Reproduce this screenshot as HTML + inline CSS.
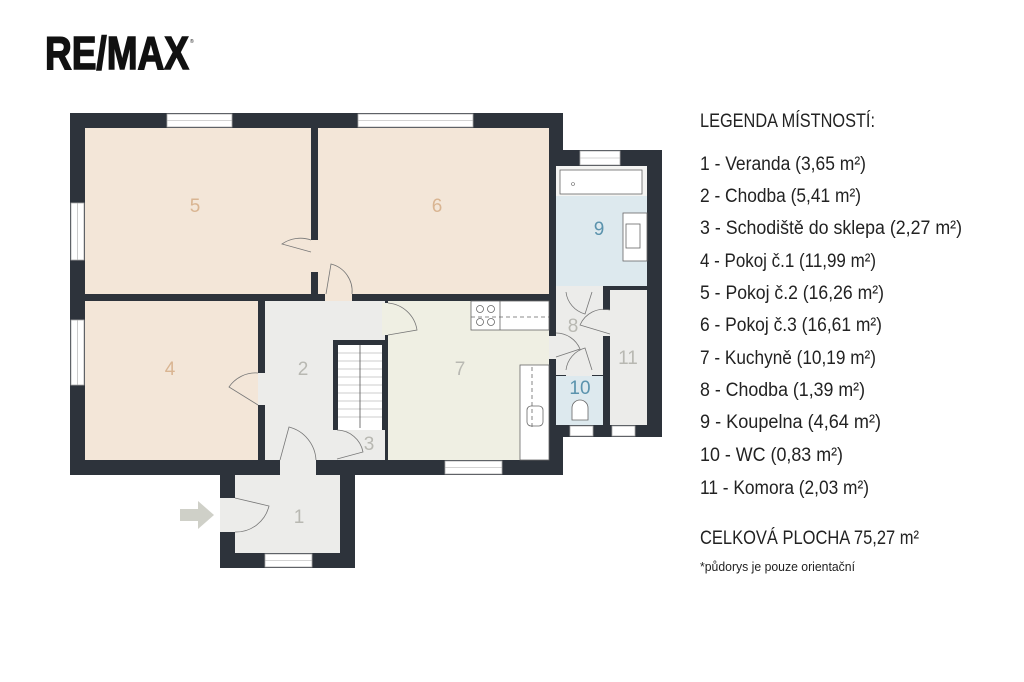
<!DOCTYPE html>
<html><head><meta charset="utf-8"><style>html,body{margin:0;padding:0;background:#fff}svg{display:block}</style></head><body>
<svg width="1024" height="682" viewBox="0 0 1024 682" xmlns="http://www.w3.org/2000/svg" font-family="Liberation Sans, sans-serif">
<rect width="1024" height="682" fill="#fff"/>
<text x="45" y="69" font-size="46" font-weight="bold" fill="#111" stroke="#111" stroke-width="1.5" textLength="144" lengthAdjust="spacingAndGlyphs">RE/MAX</text>
<text x="190" y="43" font-size="5" fill="#111">®</text>
<!-- walls -->
<g fill="#2d333b">
<rect x="70" y="113" width="493" height="362"/>
<rect x="549" y="150" width="113" height="287"/>
<rect x="220" y="460" width="135" height="108"/>
</g>
<!-- rooms -->
<rect x="85" y="128" width="226" height="166" fill="#f3e6d8"/>
<rect x="318" y="128" width="231" height="166" fill="#f3e6d8"/>
<rect x="85" y="301" width="173" height="159" fill="#f3e6d8"/>
<rect x="265" y="301" width="120" height="159" fill="#ececea"/>
<rect x="388" y="301" width="161" height="159" fill="#efefe3"/>
<rect x="556" y="166" width="91" height="120" fill="#dde9ee"/>
<rect x="556" y="166" width="91" height="30" fill="#f4f4f2"/>
<rect x="556" y="286" width="47" height="89" fill="#ececea"/>
<rect x="610" y="290" width="37" height="135" fill="#ececea"/>
<rect x="556" y="376" width="47" height="49" fill="#dde9ee"/>
<rect x="235" y="475" width="105" height="78" fill="#ececea"/>
<!-- door openings -->
<rect x="311" y="240" width="7" height="32" fill="#f3e6d8"/>
<rect x="325" y="294" width="27" height="7" fill="#f3e6d8"/>
<rect x="258" y="373" width="7" height="32" fill="#ececea"/>
<rect x="280" y="460" width="36" height="15" fill="#ececea"/>
<rect x="220" y="498" width="15" height="34" fill="#ececea"/>
<rect x="382" y="303" width="6" height="32" fill="#efefe3"/>
<rect x="549" y="333" width="7" height="26" fill="#ececea"/>
<rect x="566" y="286" width="26" height="6" fill="#ececea"/>
<rect x="603" y="310" width="7" height="26" fill="#ececea"/>
<rect x="566" y="370" width="26" height="6" fill="#ececea"/>
<rect x="549" y="286" width="7" height="50" fill="#2d333b"/>
<!-- stairs -->
<rect x="333" y="340" width="52" height="90" fill="#2d333b"/>
<rect x="338" y="345" width="44" height="85" fill="#fff"/>
<g stroke="#bbb" stroke-width="0.8">
<line x1="338" y1="353" x2="382" y2="353"/><line x1="338" y1="361" x2="382" y2="361"/><line x1="338" y1="369" x2="382" y2="369"/><line x1="338" y1="377" x2="382" y2="377"/><line x1="338" y1="385" x2="382" y2="385"/><line x1="338" y1="393" x2="382" y2="393"/><line x1="338" y1="401" x2="382" y2="401"/><line x1="338" y1="409" x2="382" y2="409"/><line x1="338" y1="417" x2="382" y2="417"/>
</g>
<line x1="360" y1="345" x2="360" y2="428" stroke="#555" stroke-width="0.8"/>
<rect x="338" y="430" width="47" height="30" fill="#ececea"/>
<!-- windows -->
<g fill="#fff" stroke="#aaa" stroke-width="0.8">
<rect x="167" y="114" width="65" height="13"/>
<rect x="358" y="114" width="115" height="13"/>
<rect x="71" y="203" width="13" height="57"/>
<rect x="71" y="320" width="13" height="65"/>
<rect x="580" y="151" width="40" height="14"/>
<rect x="445" y="461" width="57" height="13"/>
<rect x="265" y="554" width="47" height="13"/>
<rect x="570" y="426" width="23" height="10"/>
<rect x="612" y="426" width="23" height="10"/>
</g>
<g stroke="#aaa" stroke-width="0.6">
<line x1="167" y1="120.5" x2="232" y2="120.5"/><line x1="358" y1="120.5" x2="473" y2="120.5"/><line x1="77.5" y1="203" x2="77.5" y2="260"/><line x1="77.5" y1="320" x2="77.5" y2="385"/><line x1="580" y1="158" x2="620" y2="158"/><line x1="445" y1="467.5" x2="502" y2="467.5"/><line x1="265" y1="560.5" x2="312" y2="560.5"/>
</g>
<!-- fixtures -->
<rect x="560" y="170" width="82" height="24" fill="#fff" stroke="#666" stroke-width="0.8"/>
<circle cx="573" cy="184" r="1.5" fill="none" stroke="#666" stroke-width="0.6"/>
<rect x="623" y="213" width="24" height="48" fill="#fff" stroke="#666" stroke-width="0.8"/>
<rect x="626" y="224" width="14" height="24" fill="none" stroke="#666" stroke-width="0.8"/>
<rect x="471" y="301" width="78" height="29" fill="#fff" stroke="#666" stroke-width="0.8"/>
<line x1="500" y1="301" x2="500" y2="330" stroke="#666" stroke-width="0.8"/>
<line x1="471" y1="317" x2="549" y2="317" stroke="#666" stroke-width="0.8" stroke-dasharray="4 3"/>
<g fill="none" stroke="#666" stroke-width="0.8"><circle cx="480" cy="309" r="3.5"/><circle cx="491" cy="309" r="3.5"/><circle cx="480" cy="322" r="3.5"/><circle cx="491" cy="322" r="3.5"/></g>
<rect x="520" y="365" width="29" height="95" fill="#fff" stroke="#666" stroke-width="0.8"/>
<line x1="532" y1="367" x2="532" y2="430" stroke="#666" stroke-width="0.8" stroke-dasharray="4 3"/>
<rect x="527" y="406" width="16" height="20" rx="4" fill="none" stroke="#666" stroke-width="0.8"/>
<path d="M572 420 v-12 a8 8 0 0 1 16 0 v12 z" fill="#fff" stroke="#666" stroke-width="0.8"/>
<!-- door arcs -->
<g fill="none" stroke="#777" stroke-width="0.8">
<path d="M311 240 A32 32 0 0 0 282 244 L311 252"/>
<path d="M326 294 L331 264 A28 28 0 0 1 352 294"/>
<path d="M258 373 A32 32 0 0 0 229 387 L258 405"/>
<path d="M280 460 L289 427 A36 36 0 0 1 316 460"/>
<path d="M235 498 L269 506 A34 34 0 0 1 235 532"/>
<path d="M337 430 A27 27 0 0 1 363 452 L337 459"/>
<path d="M388 303 A32 32 0 0 1 417 330 L388 335"/>
<path d="M556 333 A26 26 0 0 1 580 349 L556 357"/>
<path d="M566 292 A26 26 0 0 0 585 314 L592 292"/>
<path d="M610 310 A26 26 0 0 0 580 325 L610 334"/>
<path d="M566 370 A26 26 0 0 1 585 348 L592 370"/>
</g>
<polygon points="180,509 198,509 198,501 214,515 198,529 198,521 180,521" fill="#cfd0c8"/>
<!-- room labels -->
<g font-size="19" text-anchor="middle">
<text x="195" y="212" fill="#d9b592">5</text>
<text x="437" y="212" fill="#d9b592">6</text>
<text x="170" y="375" fill="#d9b592">4</text>
<text x="303" y="375" fill="#b8b8b2">2</text>
<text x="460" y="375" fill="#b8b8b2">7</text>
<text x="369" y="450" fill="#b8b8b2">3</text>
<text x="299" y="523" fill="#b8b8b2">1</text>
<text x="599" y="235" fill="#5b93ad">9</text>
<text x="573" y="332" fill="#b8b8b2">8</text>
<text x="628" y="364" fill="#b8b8b2">11</text>
<text x="580" y="394" fill="#5b93ad">10</text>
</g>
<!-- legend -->
<g font-size="19" fill="#222">
<text x="700" y="127" textLength="175" lengthAdjust="spacingAndGlyphs">LEGENDA MÍSTNOSTÍ:</text>
<text x="700" y="170" textLength="166" lengthAdjust="spacingAndGlyphs">1 - Veranda (3,65 m²)</text>
<text x="700" y="202" textLength="161" lengthAdjust="spacingAndGlyphs">2 - Chodba (5,41 m²)</text>
<text x="700" y="234" textLength="262" lengthAdjust="spacingAndGlyphs">3 - Schodiště do sklepa (2,27 m²)</text>
<text x="700" y="267" textLength="176" lengthAdjust="spacingAndGlyphs">4 - Pokoj č.1 (11,99 m²)</text>
<text x="700" y="299" textLength="184" lengthAdjust="spacingAndGlyphs">5 - Pokoj č.2 (16,26 m²)</text>
<text x="700" y="331" textLength="182" lengthAdjust="spacingAndGlyphs">6 - Pokoj č.3 (16,61 m²)</text>
<text x="700" y="364" textLength="176" lengthAdjust="spacingAndGlyphs">7 - Kuchyně (10,19 m²)</text>
<text x="700" y="396" textLength="165" lengthAdjust="spacingAndGlyphs">8 - Chodba (1,39 m²)</text>
<text x="700" y="428" textLength="181" lengthAdjust="spacingAndGlyphs">9 - Koupelna (4,64 m²)</text>
<text x="700" y="461" textLength="143" lengthAdjust="spacingAndGlyphs">10 - WC (0,83 m²)</text>
<text x="700" y="494" textLength="169" lengthAdjust="spacingAndGlyphs">11 - Komora (2,03 m²)</text>
<text x="700" y="544" textLength="219" lengthAdjust="spacingAndGlyphs">CELKOVÁ PLOCHA 75,27 m²</text>
<text x="700" y="571" font-size="13" textLength="155" lengthAdjust="spacingAndGlyphs">*půdorys je pouze orientační</text>
</g>
</svg>
</body></html>
